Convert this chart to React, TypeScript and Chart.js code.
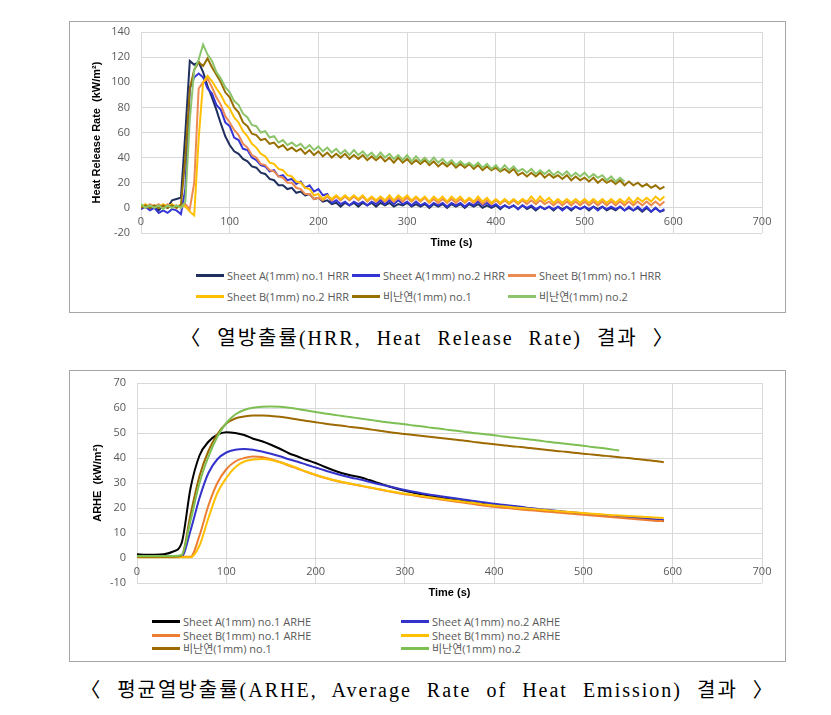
import React, { useEffect, useRef } from 'react';
import { Chart, registerables } from 'chart.js';

Chart.register(...registerables);

// ---------- HRR (Heat Release Rate) data, time step 5 s ----------
const hrrTimes = [
  0, 5, 10, 15, 20, 25, 30, 35, 40, 45,
  50, 55, 60, 65, 70, 75, 80, 85, 90, 95,
  100, 105, 110, 115, 120, 125, 130, 135, 140, 145,
  150, 155, 160, 165, 170, 175, 180, 185, 190, 195,
  200, 205, 210, 215, 220, 225, 230, 235, 240, 245,
  250, 255, 260, 265, 270, 275, 280, 285, 290, 295,
  300, 305, 310, 315, 320, 325, 330, 335, 340, 345,
  350, 355, 360, 365, 370, 375, 380, 385, 390, 395,
  400, 405, 410, 415, 420, 425, 430, 435, 440, 445,
  450, 455, 460, 465, 470, 475, 480, 485, 490, 495,
  500, 505, 510, 515, 520, 525, 530, 535, 540, 545,
  550, 555, 560, 565, 570, 575, 580, 585, 590,
];

const hrrSheetA1 = [
  0, 2, -1, 1, -2, 2, 0, 6, 7, 8,
  60, 117, 114, 116, 108, 97, 88, 78, 67, 57,
  50, 45, 43, 39, 37, 33, 32, 28, 27, 23,
  22, 18, 18, 15, 16, 12, 13, 10, 11, 7,
  8, 5, 6, 3, 4, 1, 4, 2, 4, 1,
  4, 2, 4, 1, 4, 2, 4, 1, 3, 2,
  4, 1, 3, 1, 3, 0, 3, 1, 3, 0,
  3, 1, 3, 0, 3, 1, 3, 0, 2, 0,
  2, -1, 2, 0, 2, -1, 2, -1, 1, -2,
  1, -1, 1, -2, 1, -1, 1, -2, 1, -1,
  1, -2, 1, -1, 1, -2, 0, -2, 1, -2,
  0, -2, 0, -3, 0, -3, 0, -3, -2,
];

const hrrSheetA2 = [
  -1, 1, -2, 0, -4, -2, -4, -1, -2, -5,
  15, 95, 104, 107, 104, 95, 91, 82, 78, 68,
  65, 56, 54, 47, 46, 40, 38, 34, 33, 29,
  30, 25, 26, 22, 23, 19, 21, 16, 18, 13,
  15, 10, 11, 4, 6, 3, 5, 2, 5, 3,
  5, 2, 5, 3, 6, 3, 6, 3, 6, 3,
  5, 2, 5, 2, 4, 1, 4, 2, 4, 1,
  4, 2, 4, 1, 4, 2, 5, 2, 4, 1,
  3, 0, 2, 0, 2, -1, 2, 0, 2, -1,
  1, -1, 1, -1, 1, -2, 1, -1, 1, -1,
  1, -1, 1, -2, 1, -1, 1, -1, 1, -2,
  1, -2, 1, -2, 1, -3, 0, -3, -1,
];

const hrrSheetB1 = [
  2, 0, 3, 1, 3, 0, 3, 1, 2, 0,
  3, -1, 20, 95, 100, 103, 96, 88, 82, 73,
  68, 62, 58, 51, 48, 42, 40, 35, 34, 30,
  29, 25, 24, 20, 20, 16, 15, 11, 11, 7,
  8, 6, 9, 6, 9, 6, 9, 6, 9, 6,
  9, 5, 8, 5, 8, 5, 8, 5, 8, 5,
  8, 5, 8, 5, 8, 4, 7, 4, 7, 4,
  7, 4, 7, 4, 7, 4, 7, 3, 6, 3,
  6, 3, 6, 3, 6, 3, 6, 3, 6, 3,
  6, 3, 5, 2, 5, 2, 5, 2, 5, 2,
  5, 2, 5, 2, 5, 2, 5, 2, 5, 2,
  5, 2, 5, 2, 5, 2, 5, 2, 5,
];

const hrrSheetB2 = [
  1, 3, 0, 2, 0, 3, 1, 3, 0, 3,
  1, -3, -6, 55, 100, 105, 101, 95, 90, 83,
  79, 72, 68, 61, 57, 51, 48, 43, 41, 36,
  35, 31, 30, 26, 25, 21, 20, 16, 15, 10,
  11, 7, 10, 7, 10, 7, 10, 7, 10, 7,
  10, 6, 9, 6, 9, 6, 10, 6, 10, 7,
  10, 6, 9, 6, 9, 5, 9, 6, 9, 5,
  9, 6, 9, 5, 8, 5, 9, 5, 8, 4,
  7, 4, 7, 4, 7, 4, 7, 5, 9, 5,
  9, 5, 8, 4, 7, 4, 7, 4, 7, 4,
  7, 4, 7, 4, 7, 4, 7, 4, 7, 4,
  8, 4, 8, 5, 8, 5, 9, 6, 9,
];

const hrrNonFr1 = [
  0, 2, 0, 2, 0, 2, 0, 2, 0, 2,
  40, 95, 110, 116, 113, 119, 112, 106, 100, 92,
  88, 80, 76, 68, 65, 59, 58, 54, 55, 51,
  52, 48, 50, 46, 48, 45, 47, 43, 46, 42,
  45, 41, 44, 40, 43, 40, 43, 39, 42, 39,
  42, 38, 41, 38, 41, 37, 40, 36, 40, 36,
  39, 35, 38, 35, 38, 34, 37, 33, 36, 33,
  36, 32, 35, 32, 35, 31, 34, 30, 33, 30,
  32, 29, 31, 28, 31, 26, 28, 25, 28, 25,
  28, 24, 27, 24, 26, 23, 26, 22, 25, 22,
  24, 21, 24, 20, 23, 20, 22, 19, 22, 18,
  21, 18, 20, 17, 19, 16, 18, 15, 17,
];

const hrrNonFr2 = [
  3, 0, 2, 0, 2, -1, 2, 0, 2, 0,
  5, 70, 110, 118, 130, 122, 117, 108, 103, 96,
  92, 85, 82, 75, 72, 66, 65, 60, 61, 56,
  57, 52, 54, 50, 52, 49, 51, 47, 50, 46,
  49, 45, 48, 44, 47, 43, 46, 42, 46, 42,
  45, 41, 44, 40, 44, 40, 43, 39, 42, 38,
  42, 37, 41, 37, 40, 36, 40, 36, 39, 35,
  38, 34, 37, 34, 36, 33, 36, 32, 35, 31,
  34, 30, 34, 30, 33, 29, 31, 28, 31, 27,
  30, 27, 30, 26, 29, 26, 29, 25, 28, 25,
  28, 24, 27, 24, 26, 22, 25, 21, 24, 21,
];

// ---------- ARHE data, time step 10 s ----------
const arheTimes = [
  0, 10, 20, 30, 40, 50, 60, 70, 80, 90,
  100, 110, 120, 130, 140, 150, 160, 170, 180, 190,
  200, 210, 220, 230, 240, 250, 260, 270, 280, 290,
  300, 310, 320, 330, 340, 350, 360, 370, 380, 390,
  400, 410, 420, 430, 440, 450, 460, 470, 480, 490,
  500, 510, 520, 530, 540, 550, 560, 570, 580, 590,
];

const arheSheetA1 = [
  1.5, 1.3, 1.3, 1.5, 2.5, 6, 28, 41, 46.5, 49.3,
  50.3, 50.0, 49.2, 47.7, 46.7, 45.3, 43.7, 41.9, 40.6, 39.2,
  38.0, 36.5, 35.1, 33.9, 33.0, 32.3, 31.2, 30.0, 28.9, 27.8,
  26.9, 26.1, 25.4, 24.7, 24.1, 23.5, 23.0, 22.5, 22.0, 21.6,
  21.2, 20.8, 20.4, 20.0, 19.6, 19.3, 18.9, 18.6, 18.3, 18.0,
  17.7, 17.4, 17.1, 16.8, 16.5, 16.2, 15.8, 15.5, 15.1, 14.8,
];

const arheSheetA2 = [
  0.5, 0.5, 0.5, 0.5, 0.5, 0.6, 11, 24, 34, 39.5,
  42.2, 43.3, 43.6, 43.3, 42.6, 41.7, 40.7, 39.5, 38.5, 37.3,
  36.2, 35.1, 34.0, 33.0, 32.1, 31.4, 30.5, 29.6, 28.8, 28.0,
  27.2, 26.5, 25.8, 25.2, 24.7, 24.2, 23.7, 23.2, 22.7, 22.2,
  21.7, 21.3, 20.9, 20.5, 20.0, 19.6, 19.3, 18.9, 18.5, 18.2,
  17.8, 17.5, 17.2, 16.9, 16.6, 16.3, 16.0, 15.8, 15.5, 15.2,
];

const arheSheetB1 = [
  0.5, 0.5, 0.5, 0.5, 0.5, 0.5, 0.5, 9, 21, 30,
  35.5, 38.6, 40.0, 40.6, 40.4, 39.5, 38.4, 37.0, 35.7, 34.4,
  33.2, 32.1, 31.1, 30.3, 29.6, 28.9, 28.2, 27.5, 26.8, 26.1,
  25.5, 25.0, 24.4, 23.9, 23.4, 22.9, 22.4, 21.9, 21.4, 20.9,
  20.5, 20.1, 19.8, 19.4, 19.1, 18.8, 18.5, 18.2, 17.9, 17.6,
  17.3, 17.0, 16.7, 16.4, 16.1, 15.8, 15.5, 15.2, 14.9, 14.7,
];

const arheSheetB2 = [
  0.3, 0.3, 0.3, 0.3, 0.3, 0.3, 0.3, 5, 16, 26,
  32.0, 36.3, 38.6, 39.4, 39.6, 39.2, 38.3, 37.2, 35.9, 34.5,
  33.3, 32.2, 31.2, 30.4, 29.7, 29.0, 28.3, 27.6, 26.9, 26.3,
  25.7, 25.2, 24.7, 24.2, 23.7, 23.2, 22.8, 22.3, 21.9, 21.4,
  21.0, 20.7, 20.3, 20.0, 19.7, 19.4, 19.1, 18.8, 18.5, 18.3,
  18.0, 17.7, 17.5, 17.2, 17.0, 16.8, 16.6, 16.4, 16.2, 16.0,
];

const arheNonFr1 = [
  0.5, 0.5, 0.5, 0.5, 0.5, 1.0, 17.5, 32.8, 42.8, 49.5,
  53.8, 55.8, 56.6, 57.0, 57.0, 56.8, 56.5, 56.0, 55.4, 54.8,
  54.3, 53.8, 53.3, 52.9, 52.4, 52.0, 51.5, 51.0, 50.5, 50.0,
  49.6, 49.2, 48.8, 48.4, 48.0, 47.6, 47.2, 46.8, 46.3, 45.9,
  45.5, 45.1, 44.7, 44.4, 44.0, 43.6, 43.2, 42.8, 42.5, 42.1,
  41.7, 41.4, 41.0, 40.7, 40.3, 40.0, 39.6, 39.2, 38.8, 38.3,
];

const arheNonFr2 = [
  0.8, 0.8, 0.8, 0.8, 0.8, 1.2, 15, 30, 40.5, 48.5,
  54.0, 57.4, 59.2, 60.1, 60.5, 60.6, 60.5, 60.1, 59.6, 59.0,
  58.4, 57.8, 57.3, 56.8, 56.3, 55.8, 55.3, 54.8, 54.3, 53.9,
  53.5, 53.0, 52.6, 52.1, 51.7, 51.2, 50.8, 50.3, 49.9, 49.5,
  49.1, 48.6, 48.2, 47.8, 47.4, 47.0, 46.5, 46.1, 45.7, 45.3,
  44.9, 44.4, 44.0, 43.5, 43.0,
];

// ---------- labels ----------
const hrrLabels = [
  'Sheet A(1mm) no.1 HRR',
  'Sheet A(1mm) no.2 HRR',
  'Sheet B(1mm) no.1 HRR',
  'Sheet B(1mm) no.2 HRR',
  '비난연(1mm) no.1',
  '비난연(1mm) no.2',
];
const arheLabels = [
  'Sheet A(1mm) no.1 ARHE',
  'Sheet A(1mm) no.2 ARHE',
  'Sheet B(1mm) no.1 ARHE',
  'Sheet B(1mm) no.2 ARHE',
  '비난연(1mm) no.1',
  '비난연(1mm) no.2',
];
const hrrColors = ['#1f2f5e', '#3535d6', '#ec8a52', '#ffc000', '#977000', '#8cc46c'];
const arheColors = ['#000000', '#3333cc', '#ed7d31', '#ffc000', '#9c6a00', '#7dbf52'];

const hrrTitle = 'Heat Release Rate  (kW/m²)';
const arheTitle = 'ARHE  (kW/m²)';
const xTitle = 'Time (s)';
const caption1 = '〈 열방출률(HRR, Heat Release Rate) 결과 〉';
const caption2 = '〈 평균열방출률(ARHE, Average Rate of Heat Emission) 결과 〉';

const TICK_FONT = "'Open Sans', 'Noto Sans CJK KR', sans-serif";
const TITLE_FONT = "'Liberation Sans', 'Noto Sans CJK KR', sans-serif";
const CAPTION_FONT = "'Liberation Serif', 'Noto Sans CJK KR', serif";

type PanelSpec = {
  times: number[];
  values: number[][];
  labels: string[];
  colors: string[];
  yMin: number;
  yMax: number;
  yStep: number;
  yTitle: string;
  padLeft: number;
  padTop: number;
  padBottom: number;
  yWidth: number;
  smooth: boolean;
};

const CANVAS_H = 250;

function ChartPanel({ spec }: { spec: PanelSpec }) {
  const ref = useRef<HTMLCanvasElement>(null);
  useEffect(() => {
    const n = spec.values.length;
    const datasets = spec.values.map((vals, i) => ({
      label: spec.labels[i],
      data: vals.map((v, j) => ({ x: spec.times[j], y: v })),
      borderColor: spec.colors[i],
      backgroundColor: spec.colors[i],
      borderWidth: 2,
      pointRadius: 0,
      fill: false,
      tension: 0,
      cubicInterpolationMode: spec.smooth ? 'monotone' : 'default',
      order: n - i,
    }));
    const chart = new Chart(ref.current as HTMLCanvasElement, {
      type: 'line',
      data: { datasets } as any,
      options: {
        animation: false,
        responsive: false,
        maintainAspectRatio: false,
        devicePixelRatio: 1,
        layout: { padding: { left: spec.padLeft, top: spec.padTop, right: 23, bottom: spec.padBottom } },
        plugins: { legend: { display: false }, tooltip: { enabled: false } },
        scales: {
          x: {
            type: 'linear',
            min: 0,
            max: 700,
            position: { y: 0 } as any,
            ticks: {
              stepSize: 100,
              color: '#595959',
              font: { family: TICK_FONT, size: 11 },
              padding: 7,
              maxRotation: 0,
            },
            grid: { color: '#d9d9d9', drawTicks: false },
            border: { display: false },
            title: {
              display: true,
              text: xTitle,
              color: '#000000',
              font: { family: TITLE_FONT, size: 11, weight: 'bold' },
              padding: { top: 8, bottom: 4 },
            },
            afterFit: (s: any) => {
              s.height = 46;
            },
          },
          y: {
            type: 'linear',
            min: spec.yMin,
            max: spec.yMax,
            ticks: {
              stepSize: spec.yStep,
              color: '#595959',
              font: { family: TICK_FONT, size: 11 },
              padding: 11,
            },
            grid: { color: '#d9d9d9', drawTicks: false },
            border: { display: false },
            title: {
              display: true,
              text: spec.yTitle,
              color: '#000000',
              font: { family: TITLE_FONT, size: 11, weight: 'bold' },
            },
            afterFit: (s: any) => {
              s.width = spec.yWidth;
            },
          },
        },
      } as any,
    });
    return () => chart.destroy();
  }, []);
  return (
    <canvas
      ref={ref}
      width={715}
      height={CANVAS_H}
      style={{ position: 'absolute', left: 0, top: -10, width: 715, height: CANVAS_H }}
    />
  );
}

function LegendItem({ x, y, color, label, lineW }: { x: number; y: number; color: string; label: string; lineW: number }) {
  return (
    <div
      style={{
        position: 'absolute',
        left: x,
        top: y - 8,
        height: 16,
        display: 'flex',
        alignItems: 'center',
        whiteSpace: 'nowrap',
        fontFamily: TICK_FONT,
        fontSize: 11,
        color: '#595959',
      }}
    >
      <span style={{ display: 'inline-block', width: lineW, height: 3, background: color, marginRight: 3 }} />
      <span>{label}</span>
    </div>
  );
}

const hrrSpec: PanelSpec = {
  times: hrrTimes,
  values: [hrrSheetA1, hrrSheetA2, hrrSheetB1, hrrSheetB2, hrrNonFr1, hrrNonFr2],
  labels: hrrLabels,
  colors: hrrColors,
  yMin: -20,
  yMax: 140,
  yStep: 20,
  yTitle: hrrTitle,
  padLeft: 16.4,
  padTop: 20,
  padBottom: 29,
  yWidth: 54.6,
  smooth: false,
};

const arheSpec: PanelSpec = {
  times: arheTimes,
  values: [arheSheetA1, arheSheetA2, arheSheetB1, arheSheetB2, arheNonFr1, arheNonFr2],
  labels: arheLabels,
  colors: arheColors,
  yMin: -10,
  yMax: 70,
  yStep: 10,
  yTitle: arheTitle,
  padLeft: 17.4,
  padTop: 22,
  padBottom: 28,
  yWidth: 49.6,
  smooth: true,
};

const captionStyle: React.CSSProperties = {
  position: 'absolute',
  left: 61,
  width: 717,
  lineHeight: '24px',
  textAlign: 'center',
  fontFamily: CAPTION_FONT,
  fontSize: 20,
  letterSpacing: 2,
  wordSpacing: 8,
  color: '#000',
  whiteSpace: 'nowrap',
};

export default function App() {
  const hrrLegendX = [188, 344, 500];
  const hrrLegendY = [267, 288];
  const arheLegendX = [144, 393];
  const arheLegendY = [613, 627, 640];
  return (
    <div style={{ position: 'relative', width: 815, height: 700 }}>
      <div
        style={{
          position: 'absolute',
          left: 61,
          top: 13,
          width: 715,
          height: 290,
          border: '1px solid #a6a6a6',
          background: '#ffffff',
        }}
      >
        <ChartPanel spec={hrrSpec} />
      </div>
      {hrrLabels.map((lab, i) => (
        <LegendItem
          key={'h' + i}
          x={hrrLegendX[i % 3]}
          y={hrrLegendY[Math.floor(i / 3)]}
          color={hrrColors[i]}
          label={lab}
          lineW={28}
        />
      ))}
      <div style={{ ...captionStyle, top: 318 }}>{caption1}</div>
      <div
        style={{
          position: 'absolute',
          left: 61,
          top: 362,
          width: 715,
          height: 290,
          border: '1px solid #a6a6a6',
          background: '#ffffff',
        }}
      >
        <ChartPanel spec={arheSpec} />
      </div>
      {arheLabels.map((lab, i) => (
        <LegendItem
          key={'a' + i}
          x={arheLegendX[i % 2]}
          y={arheLegendY[Math.floor(i / 2)]}
          color={arheColors[i]}
          label={lab}
          lineW={28}
        />
      ))}
      <div style={{ ...captionStyle, top: 670 }}>{caption2}</div>
    </div>
  );
}
